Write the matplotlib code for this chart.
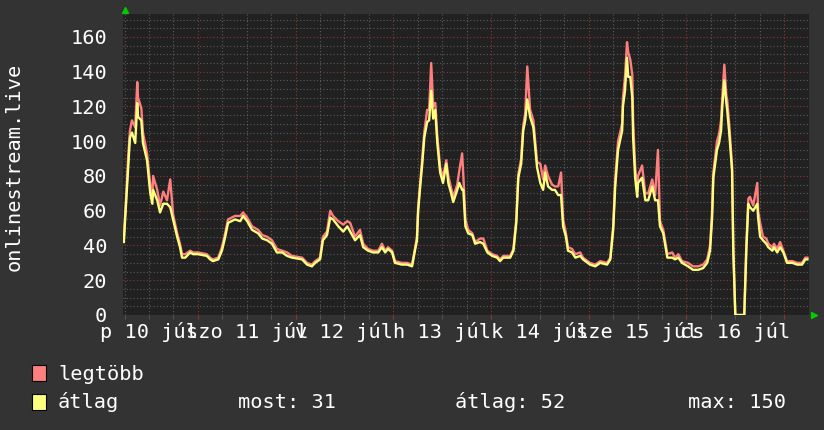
import matplotlib
matplotlib.use("Agg")
import matplotlib.pyplot as plt
from matplotlib.patches import Rectangle

plt.rcParams["font.family"] = ["DejaVu Sans Mono"]

# hours since 10 Jul 00:00
hours = [
    5.8, 6.6, 6.9, 7.3, 7.8, 8.6, 9.1, 9.3, 10.1, 10.5,
    11.5, 12.3, 12.8, 13.0, 14.0, 14.7, 15.5, 16.4, 17.2, 17.9,
    18.9, 19.6, 20.1, 20.9, 22.1, 22.8, 24.0, 26.2, 27.0, 27.7,
    29.0, 29.9, 30.7, 31.4, 33.1, 34.4, 35.1, 36.1, 37.3, 38.8,
    39.8, 41.0, 42.2, 43.4, 44.7, 45.9, 47.1, 49.6, 50.8, 52.0,
    52.8, 54.0, 54.7, 55.7, 56.5, 57.2, 58.5, 59.7, 60.7, 61.4,
    62.6, 63.8, 64.6, 65.8, 67.0, 68.3, 69.2, 70.0, 70.7, 71.7,
    72.4, 74.1, 75.4, 76.6, 77.3, 77.8, 78.1, 78.6, 79.1, 79.6,
    80.3, 80.8, 81.3, 81.8, 82.3, 82.8, 83.5, 84.2, 85.0, 85.5,
    86.2, 86.7, 87.7, 88.2, 88.9, 89.2, 89.7, 90.4, 91.4, 92.1,
    93.3, 94.1, 95.1, 96.3, 97.5, 98.2, 99.0, 100.7, 101.5, 102.2,
    102.7, 103.4, 103.9, 104.4, 104.9, 105.6, 106.4, 107.3, 108.1, 108.8,
    109.3, 110.0, 111.0, 111.7, 112.5, 113.2, 113.7, 114.4, 114.9, 115.9,
    116.7, 117.9, 118.6, 120.3, 121.6, 122.8, 124.5, 125.3, 126.0, 126.5,
    127.2, 128.2, 128.4, 128.9, 129.4, 129.7, 130.2, 130.7, 130.9, 131.4,
    131.9, 132.1, 133.1, 133.9, 134.6, 135.6, 136.3, 137.0, 137.5, 138.3,
    139.3, 140.5, 141.2, 142.0, 142.9, 144.4, 145.6, 146.9, 148.1, 149.1,
    149.8, 150.3, 150.6, 151.5, 152.0, 152.5, 152.8, 153.3, 153.8, 154.0,
    154.5, 155.2, 155.5, 156.0, 158.2, 158.7, 159.2, 159.6, 160.4, 161.4,
    161.6, 162.1, 162.8, 163.6, 164.1, 165.1, 165.5, 166.3, 167.0, 167.8,
    168.7, 170.0, 171.2, 172.4, 173.2, 173.7,
]

atlag = [
    42, 74, 87, 102, 105, 99, 122, 114, 112, 99,
    89, 70, 64, 72, 66, 59, 64, 64, 62, 55,
    45, 39, 33, 33, 36, 35, 35, 34, 32, 31,
    32, 37, 45, 53, 55, 54, 57, 54, 49, 47,
    44, 43, 41, 36, 36, 34, 33, 32, 29, 28,
    30, 32, 43, 46, 56, 55, 51, 48, 51, 48,
    43, 46, 39, 37, 36, 36, 39, 36, 38, 36,
    30, 29, 29, 28, 37, 43, 60, 74, 87, 102,
    111, 112, 129, 113, 118, 99, 82, 76, 87, 76,
    70, 65, 72, 76, 72, 72, 51, 47, 46, 41,
    42, 41, 36, 34, 33, 31, 33, 33, 37, 53,
    79, 87, 106, 112, 124, 114, 108, 85, 76, 72,
    82, 74, 72, 72, 69, 69, 51, 45, 37, 36,
    33, 34, 32, 29, 28, 30, 29, 32, 49, 74,
    95, 106, 120, 129, 148, 137, 137, 125, 102, 79,
    68, 76, 79, 66, 66, 74, 66, 66, 51, 47,
    33, 33, 32, 33, 30, 28, 26, 26, 27, 30,
    37, 56, 79, 95, 99, 106, 120, 135, 122, 118,
    105, 83, 37, 0, 0, 37, 64, 62, 60, 64,
    56, 45, 43, 41, 39, 37, 39, 36, 39, 36,
    30, 30, 29, 29, 32, 32,
]

legtobb = [
    44, 78, 92, 106, 112, 108, 134, 125, 119, 105,
    93, 75, 68, 80, 72, 63, 71, 66, 78, 58,
    47, 41, 35, 35, 37, 36, 36, 35, 33, 32,
    33, 39, 47, 55, 57, 57, 59, 56, 51, 49,
    46, 45, 43, 38, 37, 36, 34, 33, 30, 29,
    31, 33, 45, 48, 60, 57, 54, 52, 54, 53,
    45, 49, 41, 38, 37, 37, 41, 37, 39, 37,
    31, 30, 30, 29, 38, 45, 62, 76, 90, 105,
    118, 118, 145, 120, 122, 103, 85, 79, 89, 80,
    73, 68, 75, 83, 93, 80, 55, 49, 47, 42,
    44, 44, 37, 35, 34, 32, 34, 34, 38, 55,
    81, 90, 109, 116, 143, 118, 112, 88, 87, 78,
    86, 80, 75, 74, 74, 82, 55, 47, 39, 38,
    35, 36, 33, 30, 29, 31, 30, 33, 51, 78,
    100, 110, 125, 137, 157, 151, 147, 138, 112, 85,
    72, 80, 86, 70, 70, 78, 69, 95, 54, 49,
    35, 36, 33, 35, 31, 30, 28, 28, 29, 32,
    40, 60, 82, 100, 104, 112, 125, 144, 126, 124,
    110, 86, 40, 0, 0, 40, 67, 68, 63, 76,
    60, 53, 45, 44, 41, 39, 41, 38, 42, 37,
    31, 31, 30, 30, 33, 33,
]

day_labels = ["p 10 júl", "szo 11 júl", "v 12 júl", "h 13 júl",
              "k 14 júl", "sze 15 júl", "cs 16 júl"]
day_noons = [12, 36, 60, 84, 108, 132, 156]
most, avg_all, max_all = 31, 52, 150

W, H = 824, 430
FS = 14.6
RED = "#ff7f7f"
YEL = "#ffff7f"

fig = plt.figure(figsize=(W / 100, H / 100), dpi=100, facecolor="#333333")
ax = fig.add_axes([123 / W, (H - 315) / H, 686 / W, 301 / H], facecolor="#212121")

ax.plot(hours, legtobb, color=RED, lw=1.7)
ax.plot(hours, atlag, color=YEL, lw=1.7)

ax.set_xlim(5.6, 174.1)
ax.set_ylim(0, 173.2)

ax.set_yticks(range(0, 161, 20))
ax.set_yticks(range(0, 171, 5), minor=True)
ax.set_xticks(range(24, 169, 24))
ax.set_xticks(range(6, 174, 6), minor=True)
ax.set_xticklabels([])
ax.grid(which="minor", color="#5c5c5c", ls=(0, (1, 2)), lw=0.8)
ax.grid(which="major", color="#8e3636", ls=(0, (1, 2)), lw=0.8)
ax.set_axisbelow(True)
for s in ax.spines.values():
    s.set_visible(False)

ax.tick_params(axis="y", which="both", length=0, pad=11.5,
               labelcolor="white", labelsize=FS)
ax.tick_params(axis="x", which="major", length=3, color="#8e3636")
ax.tick_params(axis="x", which="minor", length=3, color="#5c5c5c")

for t, lab in zip(day_noons, day_labels):
    ax.text(t, -0.076, lab, transform=ax.get_xaxis_transform(),
            ha="center", va="baseline", color="white", fontsize=FS)

fig.text(14 / W, 1 - 167 / H, "onlinestream.live", rotation=90,
         ha="center", va="center", color="white", fontsize=FS)

# arrows
ax.plot([0.003], [1.013], marker="^", color="#00cc00", ms=5,
        transform=ax.transAxes, clip_on=False)
ax.plot([1.007], [0.0], marker=">", color="#00cc00", ms=5,
        transform=ax.transAxes, clip_on=False)

# legend
fig.add_artist(Rectangle((32 / W, 1 - 381 / H), 14 / W, 16 / H,
                         transform=fig.transFigure, fc=RED, ec="black", lw=0.8))
fig.add_artist(Rectangle((32 / W, 1 - 410 / H), 14 / W, 16 / H,
                         transform=fig.transFigure, fc=YEL, ec="black", lw=0.8))
fig.text(58 / W, 1 - 380 / H, "legtöbb", color="white", fontsize=FS, va="baseline")
fig.text(58 / W, 1 - 408 / H, "átlag", color="white", fontsize=FS, va="baseline")
fig.text(238 / W, 1 - 408 / H, "most: %d" % most, color="white", fontsize=FS, va="baseline")
fig.text(455 / W, 1 - 408 / H, "átlag: %d" % avg_all, color="white", fontsize=FS, va="baseline")
fig.text(688 / W, 1 - 408 / H, "max: %d" % max_all, color="white", fontsize=FS, va="baseline")

fig.savefig("out.png", dpi=100, facecolor=fig.get_facecolor())
